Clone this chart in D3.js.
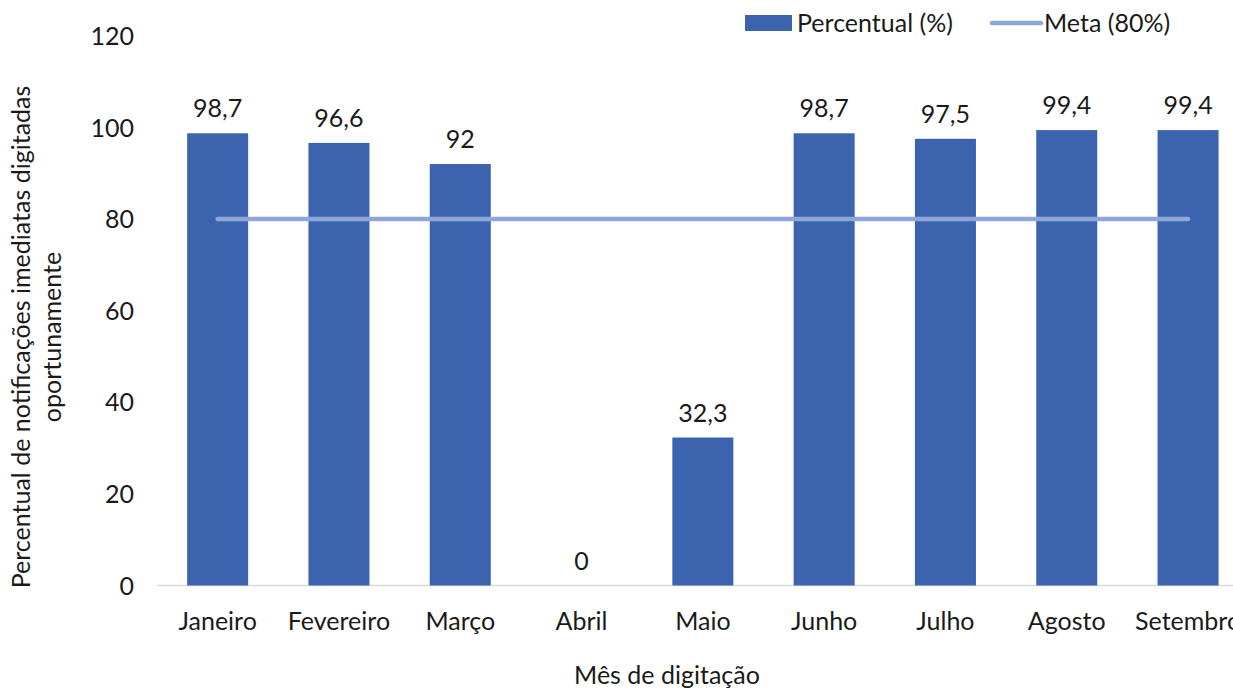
<!DOCTYPE html>
<html>
<head>
<meta charset="utf-8">
<script src="https://cdn.jsdelivr.net/npm/d3@7"></script>
<style>
  html, body { margin: 0; padding: 0; background: #fff; overflow: hidden; }
  svg { display: block; font-family: Lato, "Open Sans", sans-serif; }
</style>
</head>
<body>
<svg id="chart" width="1233" height="688"></svg>
<script>
const months = ["Janeiro", "Fevereiro", "Março", "Abril", "Maio", "Junho", "Julho", "Agosto", "Setembro"];
const percentual = [98.7, 96.6, 92, 0, 32.3, 98.7, 97.5, 99.4, 99.4];
const meta = [80, 80, 80, 80, 80, 80, 80, 80, 80];
const yTicks = [0, 20, 40, 60, 80, 100, 120];
const seriesNames = ["Percentual (%)", "Meta (80%)"];
const yTitleLines = ["Percentual de notificações imediatas digitadas", "oportunamente"];
const xTitle = "Mês de digitação";

const svg = d3.select("#chart");
const textColor = "#1a1a1a";
const barColor = "#3c64ae";
const lineColor = "#8ea6d9";
const fs = 25;

const x = d3.scaleBand().domain(months).range([157, 157 + 9 * 121.3]).paddingInner(0.497).paddingOuter(0.2485);
const y = d3.scaleLinear().domain([0, 120]).range([585.5, 35.7]);

// baseline axis
svg.append("line").attr("x1", 157).attr("x2", 1233).attr("y1", y(0)).attr("y2", y(0))
  .attr("stroke", "#d9d9d9").attr("stroke-width", 1.5);

// y tick labels
const yAxis = d3.axisLeft(y).tickValues(yTicks).tickSize(0).tickPadding(0);
const gy = svg.append("g").attr("transform", "translate(134,0)").call(yAxis);
gy.select(".domain").remove();
gy.selectAll("text").attr("font-size", fs).attr("fill", textColor).attr("font-family", "Lato").attr("dy", "0.35em");

// bars
svg.append("g").selectAll("rect").data(percentual).join("rect")
  .attr("x", (d, i) => x(months[i]))
  .attr("width", x.bandwidth())
  .attr("y", d => y(d))
  .attr("height", d => y(0) - y(d))
  .attr("fill", barColor);

// data labels
svg.append("g").selectAll("text").data(percentual).join("text")
  .attr("x", (d, i) => x(months[i]) + x.bandwidth() / 2)
  .attr("y", d => y(d) - 16)
  .attr("text-anchor", "middle")
  .attr("font-size", fs).attr("fill", textColor)
  .text(d => String(d).replace(".", ","));

// meta line
const line = d3.line().x((d, i) => x(months[i]) + x.bandwidth() / 2).y(d => y(d));
svg.append("path").datum(meta).attr("d", line)
  .attr("fill", "none").attr("stroke", lineColor).attr("stroke-width", 4.5).attr("stroke-linecap", "round");

// x tick labels
const xAxis = d3.axisBottom(x).tickSize(0).tickPadding(0);
const gx = svg.append("g").attr("transform", `translate(0,${y(0)})`).call(xAxis);
gx.select(".domain").remove();
gx.selectAll("text").attr("font-size", fs).attr("fill", textColor).attr("font-family", "Lato").attr("dy", "0").attr("y", 44);

// x title
svg.append("text").attr("x", 667).attr("y", 684).attr("text-anchor", "middle")
  .attr("font-size", fs).attr("fill", textColor).text(xTitle);

// y title
const yt = svg.append("text").attr("transform", "translate(0,337) rotate(-90)")
  .attr("text-anchor", "middle").attr("font-size", fs).attr("fill", textColor);
yt.selectAll("tspan").data(yTitleLines).join("tspan")
  .attr("x", 0).attr("y", (d, i) => 30 + i * 31).text(d => d);

// legend
const lg = svg.append("g");
lg.append("rect").attr("x", 745).attr("y", 15).attr("width", 47).attr("height", 16).attr("fill", barColor);
lg.append("text").attr("x", 797).attr("y", 32).attr("font-size", fs).attr("fill", textColor).text(seriesNames[0]);
lg.append("line").attr("x1", 992).attr("x2", 1041).attr("y1", 23).attr("y2", 23)
  .attr("stroke", lineColor).attr("stroke-width", 4.5).attr("stroke-linecap", "round");
lg.append("text").attr("x", 1044).attr("y", 32).attr("font-size", fs).attr("fill", textColor).text(seriesNames[1]);
</script>
</body>
</html>
